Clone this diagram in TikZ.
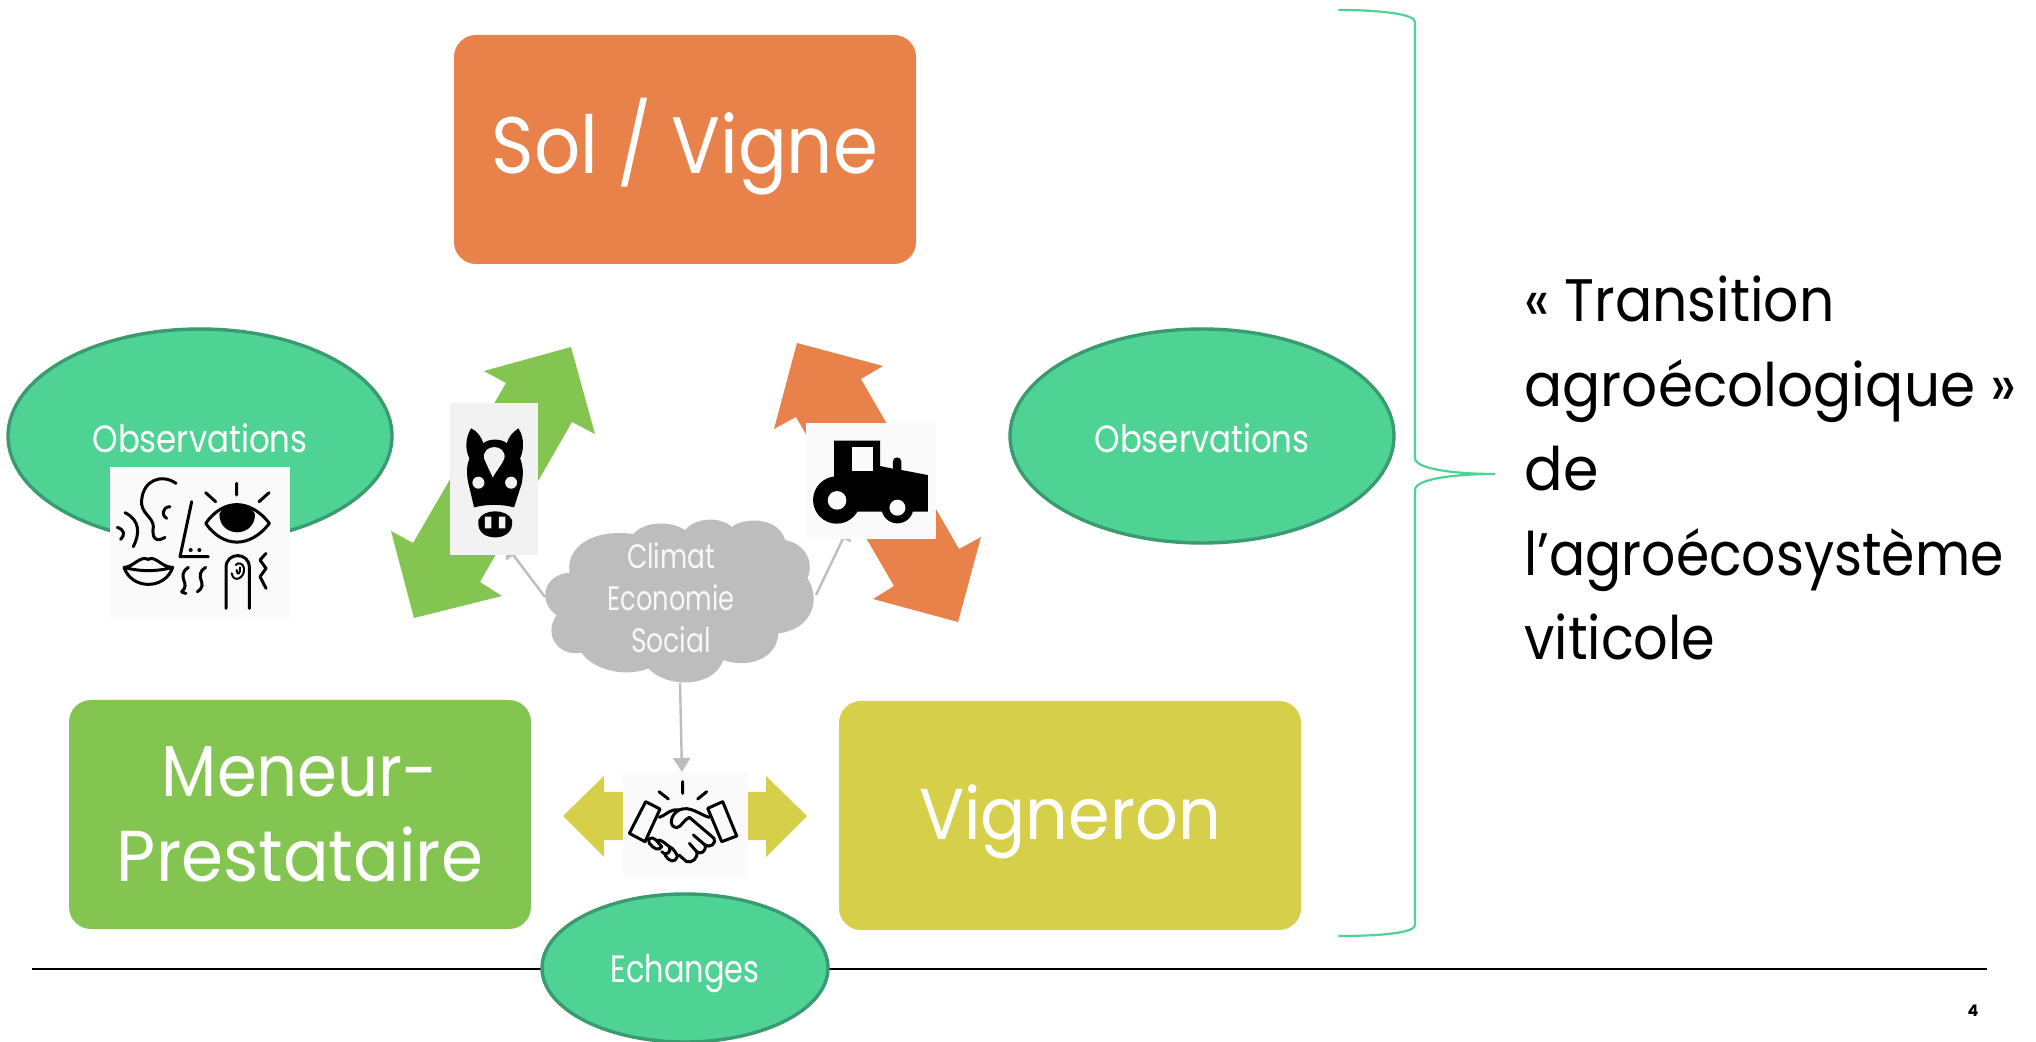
\documentclass[tikz,border=0pt]{standalone}
\usepackage{fontspec}
\usepackage{graphicx}
\setmainfont{Poppins}
\usetikzlibrary{arrows.meta,shapes.geometric}
\definecolor{orangeb}{HTML}{E8824A}
\definecolor{greenb}{HTML}{84C552}
\definecolor{yellowb}{HTML}{D6CF4A}
\definecolor{teal}{HTML}{4FD395}
\definecolor{tealdark}{HTML}{3A9B70}
\definecolor{cloudgray}{HTML}{BDBDBD}
\newcommand\fitw[2]{\resizebox{#1}{\height}{#2}}
\tikzset{
  bigbox/.style={rectangle,rounded corners=11pt,minimum width=231pt,minimum height=114.5pt,inner sep=0pt,text=white,align=center},
  oval/.style={ellipse,fill=teal,draw=tealdark,line width=1.7pt,inner sep=0pt,text=white},
  obsoval/.style={oval,minimum width=192pt,minimum height=107pt},
  iconbox/.style={rectangle,inner sep=0pt},
  link/.style={draw=cloudgray,line width=1.2pt,-{Triangle[length=7pt,width=8.5pt]}},
  strokeicon/.style={draw=black,line width=1.5pt,line cap=round,line join=round},
}
\begin{document}
\begin{tikzpicture}[x=0.5pt,y=-0.5pt]
\useasboundingbox[fill=white] (0,0) rectangle (2036,1042);
% footer line
\draw[black,line width=1.3pt] (32,969) -- (1987,969);
% big boxes
\node[bigbox,fill=orangeb] (sol) at (685,149.5) {};
\node[text=white,font=\fontsize{40}{48}\selectfont] (soltxt) at (685,147) {\fitw{193pt}{Sol / Vigne}};
\node[bigbox,fill=greenb,font=\fontsize{36}{42.5}\selectfont] (men) at (300,814.5) {\fitw{138pt}{Meneur-}\\\fitw{183pt}{Prestataire}};
\node[bigbox,fill=yellowb] (vig) at (1070,815.5) {};
\node[text=white,font=\fontsize{36}{42.5}\selectfont] (vigtxt) at (1070,822) {\fitw{151pt}{Vigneron}};
% double arrows
\fill[greenb] (571,347) -- (595,434) -- (572,422) -- (480,582) -- (502,596) -- (414,618) -- (391,531) -- (413,543) -- (506,383) -- (484,371) -- cycle;
\fill[orangeb] (797,343) -- (883,366) -- (861,379) -- (959,549) -- (981,537) -- (958,622) -- (873,599) -- (894,586) -- (796,417) -- (774,429) -- cycle;
\fill[yellowb] (563,816) -- (604,776) -- (604,792) -- (766,792) -- (766,776) -- (807,816) -- (766,857) -- (766,840) -- (604,840) -- (604,857) -- cycle;
% ovals
\node[obsoval] (obsl) at (200,436) {};
\node[obsoval] (obsr) at (1202,436) {};
\node[oval,minimum width=143pt,minimum height=74pt] (ech) at (685,968) {};
\node[text=white,font=\fontsize{19}{23}\selectfont] (obsltxt) at (200,438) {\fitw{107.5pt}{Observations}};
\node[text=white,font=\fontsize{19}{23}\selectfont] (obsrtxt) at (1202,438) {\fitw{107.5pt}{Observations}};
\node[text=white,font=\fontsize{19}{23}\selectfont] (echtxt) at (685,974) {\fitw{74.5pt}{Echanges}};
% cloud
\begin{scope}[shift={(520,330)},x=0.1667pt,y=-0.1667pt]
\fill[cloudgray] (148,722)
 .. controls (140,650) and (220,595) .. (340,612)
 .. controls (370,575) and (450,570) .. (495,600)
 .. controls (530,560) and (600,560) .. (635,590)
 .. controls (690,555) and (780,570) .. (795,630)
 .. controls (850,640) and (885,690) .. (862,745)
 .. controls (900,800) and (885,895) .. (775,910)
 .. controls (770,990) and (680,1015) .. (610,990)
 .. controls (580,1075) and (440,1075) .. (385,1015)
 .. controls (310,1045) and (215,1015) .. (185,968)
 .. controls (110,980) and (70,910) .. (110,855)
 .. controls (55,820) and (65,735) .. (148,728) -- cycle;
\end{scope}
\node[inner sep=0pt,text=white!90!cloudgray,align=center,font=\fontsize{17}{21}\selectfont] (cloud) at (671,598) {\fitw{44pt}{Climat}\\[0pt]\fitw{63.5pt}{Economie}\\[0pt]\fitw{40pt}{Social}};
% connectors
\coordinate (cl) at (545,597);
\coordinate (cr) at (816,595);
\coordinate (cb) at (680,683);
\coordinate (horsein) at (505,544);
\coordinate (tracin) at (849,526);
\coordinate (handin) at (682,772);
\draw[link] (cr) -- (tracin);
\draw[link] (cl) -- (horsein);
\draw[link] (cb) -- (handin);
% icon boxes
\node[iconbox,fill=black!2,minimum width=90pt,minimum height=76.5pt] (sensebox) at (200,543.5) {};
\node[iconbox,fill=black!5,minimum width=44pt,minimum height=76pt] (horsebox) at (494,479) {};
\node[iconbox,fill=black!2,minimum width=65pt,minimum height=58pt] (tracbox) at (871,481) {};
\node[iconbox,fill=black!2,minimum width=62.5pt,minimum height=52.5pt] (handbox) at (685.5,824.5) {};
% senses icon
\begin{scope}[shift={(90,330)},x=0.1667pt,y=-0.1667pt]
\draw[strokeicon] (82,592) .. controls (105,600) and (105,615) .. (92,628);
\draw[strokeicon] (105,548) .. controls (150,570) and (150,610) .. (130,650);
\draw[strokeicon] (258,460) .. controls (215,430) and (160,450) .. (155,510) .. controls (150,550) and (190,560) .. (190,590) .. controls (185,620) and (195,640) .. (225,622);
\draw[strokeicon] (240,530) .. controls (215,530) and (215,560) .. (230,565);
\draw[strokeicon] (305,515) -- (270,680) -- (355,680);
\fill (302,660) circle (6) (328,660) circle (6);
\draw[strokeicon] (347,580) .. controls (400,505) and (480,505) .. (538,580) .. controls (480,655) and (400,655) .. (347,580) -- cycle;
\fill (388,552) .. controls (400,515) and (480,515) .. (495,552) .. controls (495,625) and (388,625) .. (388,552) -- cycle;
\draw[strokeicon] (440,460) -- (440,495) (347,488) -- (377,515) (537,488) -- (507,515);
\draw[strokeicon] (102,712) .. controls (130,712) and (150,675) .. (175,688) .. controls (195,675) and (215,712) .. (248,712) .. controls (225,780) and (125,780) .. (102,712) .. controls (150,725) and (200,725) .. (248,712);
\draw[strokeicon] (295,712) .. controls (255,740) and (305,760) .. (275,785) .. controls (275,785) and (280,790) .. (288,790);
\draw[strokeicon] (347,712) .. controls (305,740) and (360,760) .. (322,785);
\draw[strokeicon] (408,835) -- (408,712) .. controls (408,665) and (478,665) .. (478,712) -- (478,835);
\draw[strokeicon,line width=1pt] (425,730) .. controls (430,760) and (465,745) .. (462,715) .. controls (460,700) and (445,695) .. (437,705) (440,720) .. controls (442,740) and (452,730) .. (450,712);
\draw[strokeicon] (528,670) -- (510,690) -- (528,715) -- (510,740) -- (528,775);
\end{scope}
% horse icon
\begin{scope}[shift={(90,330)},x=0.1667pt,y=-0.1667pt]
\fill (1143,295) .. controls (1165,305) and (1175,325) .. (1180,340) .. controls (1195,325) and (1235,325) .. (1250,340) .. controls (1255,320) and (1270,305) .. (1285,295) .. controls (1305,325) and (1300,365) .. (1290,385) .. controls (1300,410) and (1300,430) .. (1295,460) -- (1272,532) .. controls (1235,522) and (1190,522) .. (1152,532) -- (1135,460) .. controls (1128,430) and (1130,405) .. (1138,385) .. controls (1125,360) and (1125,325) .. (1143,295) -- cycle;
\fill[black!5] (1182,385) .. controls (1175,340) and (1250,340) .. (1243,385) .. controls (1235,405) and (1220,420) .. (1208,442) .. controls (1198,420) and (1190,405) .. (1182,385) -- cycle;
\fill[black!5] (1165,458) circle (18) (1263,458) circle (18);
\fill (1165,570) .. controls (1180,535) and (1250,535) .. (1266,570) .. controls (1270,610) and (1240,622) .. (1215,622) .. controls (1190,622) and (1160,610) .. (1165,570) -- cycle;
\fill[black!5] (1184,560) rectangle (1204,595) (1226,560) rectangle (1246,595);
\end{scope}
% tractor icon
\begin{scope}[shift={(520,330)},x=0.1667pt,y=-0.1667pt]
\fill (942,500) -- (942,332) -- (1080,332) -- (1080,408) -- (1118,416) -- (1118,395) .. controls (1118,378) and (1144,378) .. (1144,395) -- (1144,420) -- (1223,435) -- (1223,545) -- (1100,545) -- (1000,545) -- cycle;
\fill[black!2] (995,352) rectangle (1060,422);
\fill (950,510) circle (71);
\fill (1132,532) circle (48);
\fill[black!2] (951,511) circle (28) (1132,533) circle (24);
\end{scope}
% handshake icon
\begin{scope}[shift={(530,740)},x=0.1667pt,y=-0.1667pt]
\draw[strokeicon] (347,185) -- (390,207) -- (345,305) -- (298,280) -- cycle;
\draw[strokeicon] (533,205) -- (578,185) -- (620,288) -- (575,305) -- cycle;
\draw[strokeicon] (458,125) -- (458,160) (387,155) -- (415,177) (530,155) -- (503,177);
\draw[strokeicon] (388,232) .. controls (410,225) and (420,205) .. (447,210) .. controls (420,225) and (415,260) .. (440,263) .. controls (455,260) and (460,240) .. (478,232) -- (552,295) .. controls (560,310) and (540,325) .. (525,315) -- (490,285);
\draw[strokeicon] (447,210) .. controls (480,195) and (510,225) .. (538,232);
\draw[strokeicon] (525,315) .. controls (530,335) and (510,345) .. (500,335) -- (478,310);
\draw[strokeicon] (500,335) .. controls (505,355) and (485,370) .. (470,365) -- (447,345);
\draw[strokeicon] (358,310) .. controls (350,295) and (365,288) .. (378,300) -- (395,320) .. controls (385,335) and (370,325) .. (358,310) -- cycle;
\draw[strokeicon] (385,300) .. controls (395,300) and (405,310) .. (418,320) .. controls (425,335) and (410,350) .. (395,335);
\draw[strokeicon] (418,320) .. controls (430,325) and (440,340) .. (442,350) .. controls (435,368) and (420,368) .. (405,345);
\end{scope}
% brace
\draw[teal,line width=1.1pt,line cap=round] (1339,10) .. controls (1380,10) and (1415,14) .. (1415,22) -- (1415,458) .. controls (1415,470) and (1460,474) .. (1495,474) .. controls (1460,474) and (1415,478) .. (1415,490) -- (1415,925) .. controls (1415,933) and (1380,936) .. (1339,936);
% right text
\node[anchor=west,inner sep=0pt,align=left,text=black,font=\fontsize{30}{42.25}\selectfont] (concl) at (1524,468) {\fitw{155pt}{« Transition}\\\fitw{246pt}{agroécologique »}\\\fitw{37pt}{de}\\\fitw{239.5pt}{l’agroécosystème}\\\fitw{95.5pt}{viticole}};
% page number
\node[inner sep=0pt,font=\fontsize{8}{10}\selectfont\bfseries] (pg) at (1973,1011) {4};
\end{tikzpicture}
\end{document}
